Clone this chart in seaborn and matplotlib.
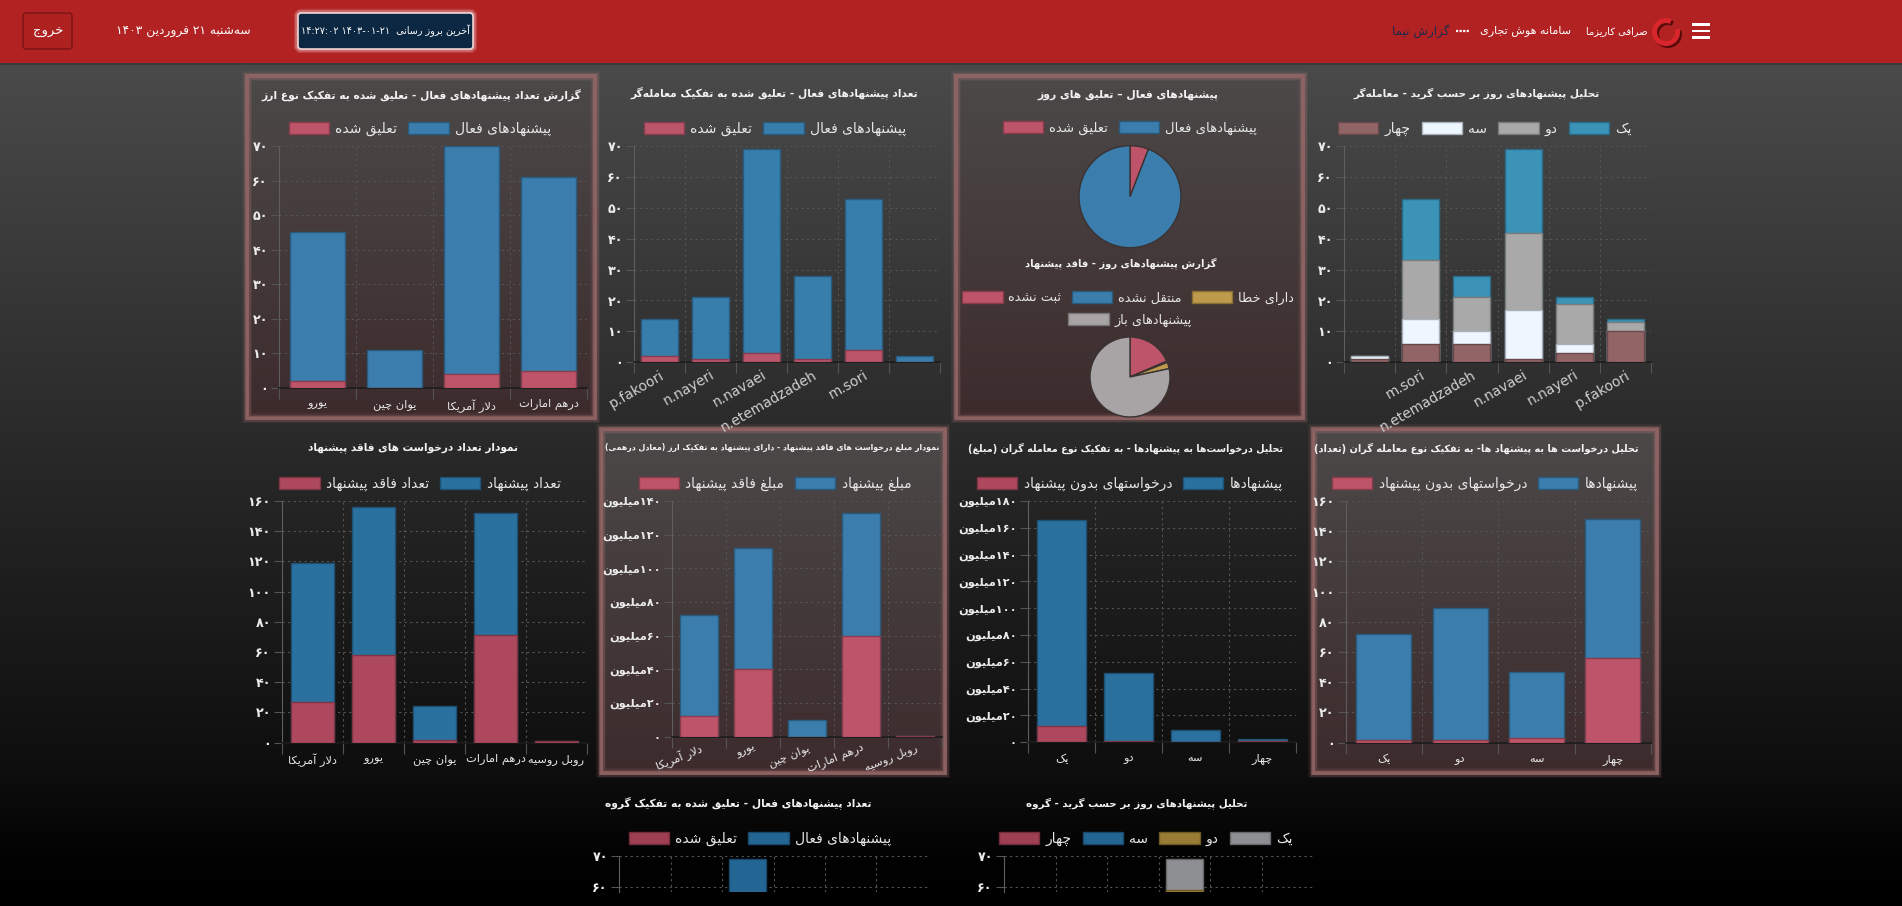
import re
import unicodedata
import numpy as np
import pandas as pd
import matplotlib
matplotlib.use('Agg')
import matplotlib.pyplot as plt
import matplotlib.patches as mpatches
from matplotlib.colors import to_rgb
from matplotlib.ticker import FixedLocator, FuncFormatter
import seaborn as sns

W, H = 1902, 906

# ---------------- data ----------------
currency_cats = ['یورو', 'یوان چین', 'دلار آمریکا', 'درهم امارات']
currency_active = [43, 11, 66, 56]
currency_suspended = [2, 0, 4, 5]

trader_cats = ['p.fakoori', 'n.nayeri', 'n.navaei', 'n.etemadzadeh', 'm.sori', '']
trader_active = [12, 20, 66, 27, 49, 2]
trader_suspended = [2, 1, 3, 1, 4, 0]

day_pie_values = [11, 176]          # suspended, active
nooffer_pie_values = [36, 1, 5, 152]  # not registered, not transferred, error, open

grade_trader_cats = ['', 'm.sori', 'n.etemadzadeh', 'n.navaei', 'n.nayeri', 'p.fakoori']
gt_four = [1, 6, 6, 1, 3, 10]
gt_three = [1, 8, 4, 16, 3, 0]
gt_two = [0, 19, 11, 25, 13, 3]
gt_one = [0, 20, 7, 27, 2, 1]

req_cats = ['دلار آمریکا', 'یورو', 'یوان چین', 'درهم امارات', 'روبل روسیه']
req_offer = [92, 98, 22, 81, 0]
req_nooffer = [27, 58, 2, 71, 1]

amount_offer = [60, 72, 10, 73, 0]        # million
amount_nooffer = [12, 40, 0, 60, 0.4]

grade_cats = ['یک', 'دو', 'سه', 'چهار']
grade_amount_offer = [154, 51, 8.7, 1.5]  # million
grade_amount_nooffer = [12, 1, 0.3, 1]
grade_count_offer = [70, 87, 44, 92]
grade_count_nooffer = [2, 2, 3, 56]

group_cats = ['p.fakoori', 'n.nayeri', 'n.navaei', 'n.etemadzadeh', 'm.sori', '']
group_active = [12, 20, 66, 27, 49, 2]
group_suspended = [2, 1, 3, 1, 4, 0]

gg_four = [1, 6, 6, 1, 3, 10]
gg_three = [1, 8, 4, 16, 3, 0]
gg_two = [0, 19, 11, 42, 13, 3]
gg_one = [0, 20, 7, 10, 2, 1]

# ---------------- persian text helpers ----------------
DUAL = set('بپتثجچحخسشصضطظعغفقکگلمنهیئيك')
RIGHT = set('اآأإدذرزژوؤة')
LAM_ALEF = {'ا': ('\ufefb', '\ufefc'), 'آ': ('\ufef5', '\ufef6'),
            'أ': ('\ufef7', '\ufef8'), 'إ': ('\ufef9', '\ufefa')}
FORMS = {(False, False): ' ISOLATED FORM', (True, False): ' FINAL FORM',
         (False, True): ' INITIAL FORM', (True, True): ' MEDIAL FORM'}


def shape(text):
    items = []
    i = 0
    while i < len(text):
        if text[i] == 'ل' and i + 1 < len(text) and text[i + 1] in LAM_ALEF:
            items.append(('LA', text[i + 1]))
            i += 2
        else:
            items.append(text[i])
            i += 1

    def is_letter(it):
        return isinstance(it, tuple) or it in DUAL or it in RIGHT

    out = []
    for k, it in enumerate(items):
        prev_j = k > 0 and isinstance(items[k - 1], str) and items[k - 1] in DUAL and is_letter(it)
        if isinstance(it, tuple):
            iso, fin = LAM_ALEF[it[1]]
            out.append(fin if prev_j else iso)
            continue
        if not is_letter(it):
            if it != '\u200c':
                out.append(it)
            continue
        next_j = it in DUAL and k + 1 < len(items) and is_letter(items[k + 1])
        try:
            out.append(unicodedata.lookup(unicodedata.name(it) + FORMS[(prev_j, next_j)]))
        except KeyError:
            out.append(it)
    return ''.join(out)


NUM_RUN = re.compile(r'[0-9۰-۹]+(?:[:\-./,][0-9۰-۹]+)*')


def rtl(text):
    vis = shape(text)[::-1]
    vis = NUM_RUN.sub(lambda m: m.group(0)[::-1], vis)
    return vis.translate(str.maketrans('()', ')('))


FA = str.maketrans('0123456789', '۰۱۲۳۴۵۶۷۸۹')


def fa_num(v):
    return str(int(round(v))).translate(FA)


def fmt_count(v, pos):
    return fa_num(v)


def fmt_million(v, pos):
    return fa_num(v) if v == 0 else rtl(fa_num(v) + 'میلیون')


# ---------------- colours ----------------
CJ_BLUE = '#36a2eb'
CJ_RED = '#ff6384'
CJ_GOLD = '#ffce56'
CJ_GRAY = '#c9cbcf'


def blend(base, alpha, bg):
    return tuple(alpha * np.array(to_rgb(base)) + (1 - alpha) * np.array(to_rgb(bg)))


def darker(c, f=0.72):
    return tuple(np.array(to_rgb(c)) * f)


GRID = '#545454'
FA_TICK = 8.2

# ---------------- figure ----------------
plt.rcParams['font.family'] = ['DejaVu Sans']
fig = plt.figure(figsize=(W / 100, H / 100), dpi=100, facecolor='black')
renderer = fig.canvas.get_renderer()

bg = fig.add_axes([0, 0, 1, 1])
bg.set_xlim(0, W)
bg.set_ylim(H, 0)
bg.axis('off')
bg.set_zorder(-5)

# page gradient
ys = np.arange(63, H)
lev = np.interp(ys, [63, 425, 770, 860, 906], [0x4a, 0x2b, 0x0e, 0x02, 0x00]) / 255
grad = np.repeat(lev[:, None, None], 3, axis=2)
bg.imshow(grad, extent=(0, W, H, 63), aspect='auto', interpolation='bilinear', zorder=0)

# header
bg.add_patch(mpatches.Rectangle((0, 0), W, 63, facecolor='#b22222', edgecolor='none', zorder=1))
bg.add_patch(mpatches.Rectangle((0, 63), W, 2, facecolor='#3a3a3a', edgecolor='none', zorder=1))


def px_axes(x0, y0, x1, y1):
    return fig.add_axes([x0 / W, 1 - y1 / H, (x1 - x0) / W, (y1 - y0) / H])


def fit_text(x, y, text, width, size, **kw):
    # shrink the font until the text is no wider than the room it has
    t = bg.text(x, y, text, fontsize=size, ha='center', va='center', zorder=5, **kw)
    w = t.get_window_extent(renderer=renderer).width
    if w > width:
        t.set_fontsize(size * width / w)
    return t


def framed_panel(x0, y0, x1, y1):
    n = int(y1 - y0)
    lv = np.linspace(0, 1, n)[:, None]
    top = np.array(to_rgb('#4c4949'))
    bot = np.array(to_rgb('#3d2b2c'))
    g = (1 - lv) * top + lv * bot
    bg.imshow(g[:, None, :], extent=(x0, x1, y1, y0), aspect='auto', zorder=2)
    for lw, a in [(7, 0.10), (5, 0.18), (3, 0.35)]:
        bg.add_patch(mpatches.Rectangle((x0, y0), x1 - x0, y1 - y0, fill=False,
                                        edgecolor='#c08080', linewidth=lw, alpha=a, zorder=3))
    bg.add_patch(mpatches.Rectangle((x0, y0), x1 - x0, y1 - y0, fill=False,
                                    edgecolor='#8e6262', linewidth=1.8, zorder=3))


framed_panel(247, 76, 595, 418)
framed_panel(956, 76, 1303, 418)
framed_panel(601, 429, 945, 773)
framed_panel(1313, 429, 1657, 773)


def title(cx, cy, text, width):
    fit_text(cx, cy, rtl(text), width, 9.5, color='#f2f2f2', fontweight='bold')


def legend(cx, cy, items, size=10):
    handles = [mpatches.Patch(facecolor=f, edgecolor=darker(f), linewidth=1) for f, _ in items]
    labels = [rtl(t) for _, t in items]
    fig.legend(handles, labels, loc='center', bbox_to_anchor=(cx / W, 1 - cy / H),
               ncol=len(items), frameon=False, fontsize=size, handlelength=2.9 * 10 / size,
               handleheight=1.0 * 10 / size, handletextpad=0.45, columnspacing=0.8,
               labelcolor='#e6e6e6', borderpad=0, borderaxespad=0)


def bar_chart(box, layers, colors, ylim, ticks, fmt, labels, rot=0, lab_size=FA_TICK,
              lab_color='#e8e8e8', lab_pad=8, bottom_axis=True, ylab_size=9.2):
    ax = px_axes(*box)
    n = len(layers[0])
    tops = np.cumsum(np.array(layers, dtype=float), axis=0)
    for k in range(len(layers) - 1, -1, -1):
        sns.barplot(x=np.arange(n), y=tops[k], color=colors[k], saturation=1, width=0.72,
                    edgecolor=darker(colors[k]), linewidth=1, errorbar=None, ax=ax, zorder=3)
    ax.set_facecolor('none')
    ax.set_xlim(-0.5, n - 0.5)
    ax.set_ylim(*ylim)
    ax.set_xlabel('')
    ax.set_ylabel('')
    ax.yaxis.set_major_locator(FixedLocator(ticks))
    ax.yaxis.set_major_formatter(FuncFormatter(fmt))
    ax.set_xticks(np.arange(n))
    ax.set_xticks(np.arange(-0.5, n), minor=True)
    if labels is None:
        ax.set_xticklabels([''] * n)
    elif rot:
        ax.set_xticklabels(labels, rotation=rot, ha='right', rotation_mode='anchor',
                           fontsize=lab_size, color=lab_color)
    else:
        ax.set_xticklabels(labels, fontsize=lab_size, color=lab_color)
    ax.grid(axis='y', which='major', color=GRID, linestyle=(0, (2, 3)), linewidth=0.8)
    ax.grid(axis='x', which='minor', color=GRID, linestyle=(0, (2, 3)), linewidth=0.8)
    ax.grid(axis='x', which='major', visible=False)
    ax.set_axisbelow(True)
    ax.tick_params(axis='x', which='major', length=0, pad=lab_pad)
    ax.tick_params(axis='x', which='minor', length=8 if bottom_axis else 0, color=GRID, width=0.8)
    ax.tick_params(axis='y', length=6, color=GRID, width=0.8, pad=2,
                   labelcolor='#ececec', labelsize=ylab_size)
    for t in ax.get_yticklabels():
        t.set_fontweight('bold')
    ax.spines['top'].set_visible(False)
    ax.spines['right'].set_visible(False)
    ax.spines['left'].set_color('#5e5e5e')
    ax.spines['bottom'].set_color('#1c1c1c')
    ax.spines['bottom'].set_linewidth(1.2)
    ax.spines['bottom'].set_visible(bottom_axis)
    return ax


def pie_chart(cx, cy, r, values, colors):
    ax = px_axes(cx - r - 2, cy - r - 2, cx + r + 2, cy + r + 2)
    ax.pie(values, colors=colors, startangle=90, counterclock=False, radius=r / (r + 2),
           wedgeprops=dict(edgecolor='#3a3232', linewidth=1))
    ax.set_xlim(-1, 1)
    ax.set_ylim(-1, 1)
    ax.set_aspect('equal')
    ax.axis('off')


FRAME_BG = '#433838'
TOP_BG = '#3c3b3b'
MID_BG = '#161616'
LOW_BG = '#030303'

blue_f, red_f = blend(CJ_BLUE, 0.65, FRAME_BG), blend(CJ_RED, 0.65, FRAME_BG)
blue_t, red_t = blend(CJ_BLUE, 0.65, TOP_BG), blend(CJ_RED, 0.65, TOP_BG)
blue_m, red_m = blend(CJ_BLUE, 0.65, MID_BG), blend(CJ_RED, 0.65, MID_BG)
blue_l, red_l = blend(CJ_BLUE, 0.62, LOW_BG), blend(CJ_RED, 0.62, LOW_BG)
gold_l, gray_l = blend(CJ_GOLD, 0.6, LOW_BG), blend(CJ_GRAY, 0.7, LOW_BG)
gold_f, gray_f = blend(CJ_GOLD, 0.65, FRAME_BG), '#a8a4a5'
g_blue, g_gray, g_white, g_brown = '#3b93b8', '#a9a9a9', '#eef6ff', '#916466'

# ---------- top row ----------
title(421, 95, 'گزارش تعداد پیشنهادهای فعال - تعلیق شده به تفکیک نوع ارز', 320)
legend(420, 129, [(red_f, 'تعلیق شده'), (blue_f, 'پیشنهادهای فعال')])
bar_chart((279, 146, 587, 388), [currency_suspended, currency_active], [red_f, blue_f],
          (0, 70), range(0, 71, 10), fmt_count, [rtl(c) for c in currency_cats])

title(774, 93, 'تعداد پیشنهادهای فعال - تعلیق شده به تفکیک معامله\u200cگر', 290)
legend(775, 129, [(red_t, 'تعلیق شده'), (blue_t, 'پیشنهادهای فعال')])
bar_chart((634, 146, 940, 362.3), [trader_suspended, trader_active], [red_t, blue_t],
          (0, 70), range(0, 71, 10), fmt_count, trader_cats, rot=30, lab_size=10,
          lab_color='#cfcfcf', lab_pad=4)

title(1128, 95, 'پیشنهادهای فعال – تعلیق های روز', 182)
legend(1130, 128, [(red_f, 'تعلیق شده'), (blue_f, 'پیشنهادهای فعال')], size=9.5)
pie_chart(1130, 196.7, 51, day_pie_values, [red_f, blue_f])
title(1121, 263, 'گزارش پیشنهادهای روز - فاقد پیشنهاد', 194)
legend(1128, 298, [(red_f, 'ثبت نشده'), (blue_f, 'منتقل نشده'), (gold_f, 'دارای خطا')], size=9.3)
legend(1130, 320, [(gray_f, 'پیشنهادهای باز')], size=9.3)
pie_chart(1130, 377, 40, nooffer_pie_values, [red_f, blue_f, gold_f, gray_f])

title(1477, 93, 'تحلیل پیشنهادهای روز بر حسب گرید - معامله\u200cگر', 248)
legend(1485, 129, [(g_brown, 'چهار'), (g_white, 'سه'), (g_gray, 'دو'), (g_blue, 'یک')])
bar_chart((1344, 146, 1651, 362.3), [gt_four, gt_three, gt_two, gt_one],
          [g_brown, g_white, g_gray, g_blue], (0, 70), range(0, 71, 10), fmt_count,
          grade_trader_cats, rot=30, lab_size=10, lab_color='#cfcfcf', lab_pad=4)

# ---------- middle row ----------
title(413, 448, 'نمودار تعداد درخواست های فاقد پیشنهاد', 212)
legend(420, 484, [(red_m, 'تعداد فاقد پیشنهاد'), (blue_m, 'تعداد پیشنهاد')])
bar_chart((282, 501, 587, 742.7), [req_nooffer, req_offer], [red_m, blue_m],
          (0, 160), range(0, 161, 20), fmt_count, [rtl(c) for c in req_cats])

title(772, 448, 'نمودار مبلغ درخواست های فاقد پیشنهاد - دارای پیشنهاد به تفکیک ارز (معادل درهمی)', 338)
legend(775, 484, [(red_f, 'مبلغ فاقد پیشنهاد'), (blue_f, 'مبلغ پیشنهاد')])
bar_chart((672, 501, 942, 736.7), [amount_nooffer, amount_offer], [red_f, blue_f],
          (0, 140), range(0, 141, 20), fmt_million, [rtl(c) for c in req_cats], rot=22,
          lab_pad=4, ylab_size=8.2)

title(1126, 448, 'تحلیل درخواست\u200cها به پیشنهادها - به تفکیک نوع معامله گران (مبلغ)', 320)
legend(1130, 484, [(red_m, 'درخواستهای بدون پیشنهاد'), (blue_m, 'پیشنهادها')])
bar_chart((1028, 501, 1296, 742.3), [grade_amount_nooffer, grade_amount_offer], [red_m, blue_m],
          (0, 180), range(0, 181, 20), fmt_million, [rtl(c) for c in grade_cats], ylab_size=8.2)

title(1476, 448, 'تحلیل درخواست ها به پیشنهاد ها- به تفکیک نوع معامله گران (تعداد)', 330)
legend(1485, 484, [(red_f, 'درخواستهای بدون پیشنهاد'), (blue_f, 'پیشنهادها')])
bar_chart((1345.7, 501, 1651, 742.7), [grade_count_nooffer, grade_count_offer], [red_f, blue_f],
          (0, 160), range(0, 161, 20), fmt_count, [rtl(c) for c in grade_cats])

# ---------- bottom row (cut off by the page edge) ----------
title(738, 803, 'تعداد پیشنهادهای فعال - تعلیق شده به تفکیک گروه', 268)
legend(760, 839, [(red_l, 'تعلیق شده'), (blue_l, 'پیشنهادهای فعال')])
bar_chart((619, 856, 928, 892), [group_suspended, group_active], [red_l, blue_l],
          (58.27, 70), [60, 70], fmt_count, None, bottom_axis=False)

title(1137, 803, 'تحلیل پیشنهادهای روز بر حسب گرید - گروه', 224)
legend(1146, 839, [(red_l, 'چهار'), (blue_l, 'سه'), (gold_l, 'دو'), (gray_l, 'یک')])
bar_chart((1004, 856, 1313.6, 892), [gg_four, gg_three, gg_two, gg_one],
          [red_l, blue_l, gold_l, gray_l], (58.27, 70), [60, 70], fmt_count, None,
          bottom_axis=False)

# ---------- header content ----------
bg.add_patch(mpatches.FancyBboxPatch((23, 13), 49, 36, boxstyle='round,pad=0,rounding_size=3',
                                     facecolor='#ad2121', edgecolor='#7a1414', linewidth=1, zorder=4))
fit_text(48, 31, rtl('خروج'), 30, 11, color='white')
fit_text(183, 32, rtl('سه\u200cشنبه ۲۱ فروردین ۱۴۰۳'), 135, 11.5, color='white')
for lw, a in [(6, 0.12), (4, 0.25)]:
    bg.add_patch(mpatches.FancyBboxPatch((298, 13), 175, 36, boxstyle='round,pad=0,rounding_size=3',
                                         fill=False, edgecolor='white', linewidth=lw, alpha=a, zorder=4))
bg.add_patch(mpatches.FancyBboxPatch((298, 13), 175, 36, boxstyle='round,pad=0,rounding_size=3',
                                     facecolor='#0c2741', edgecolor='#f2d6d6', linewidth=1.2, zorder=4))
fit_text(385.5, 31, rtl('آخرین بروز رسانی  ۱۴۰۳-۰۱-۲۱ ۱۴:۲۷:۰۲'), 168, 11, color='white')

fit_text(1421, 31, rtl('گزارش نیما'), 58, 11.5, color='#1b2b4b')
bg.plot([1456, 1469], [31, 31], color='white', linewidth=1.6, linestyle=(0, (1, 0.6)), zorder=5)
fit_text(1526, 31, rtl('سامانه هوش تجاری'), 92, 11.5, color='white')
fit_text(1617, 31, rtl('صرافی کاریزما'), 62, 11.5, color='white')
bg.add_patch(mpatches.Wedge((1668, 34), 14, -15, 295, width=5, facecolor='#5a0b0b', edgecolor='none', zorder=4))
bg.add_patch(mpatches.Wedge((1666, 32), 14, -15, 295, width=5, facecolor='#d8262c', edgecolor='none', zorder=4))
for yy in (23, 29.5, 36):
    bg.add_patch(mpatches.Rectangle((1692, yy), 18, 2.8, facecolor='white', edgecolor='none', zorder=5))

fig.savefig('out.png', dpi=100, facecolor='black')
